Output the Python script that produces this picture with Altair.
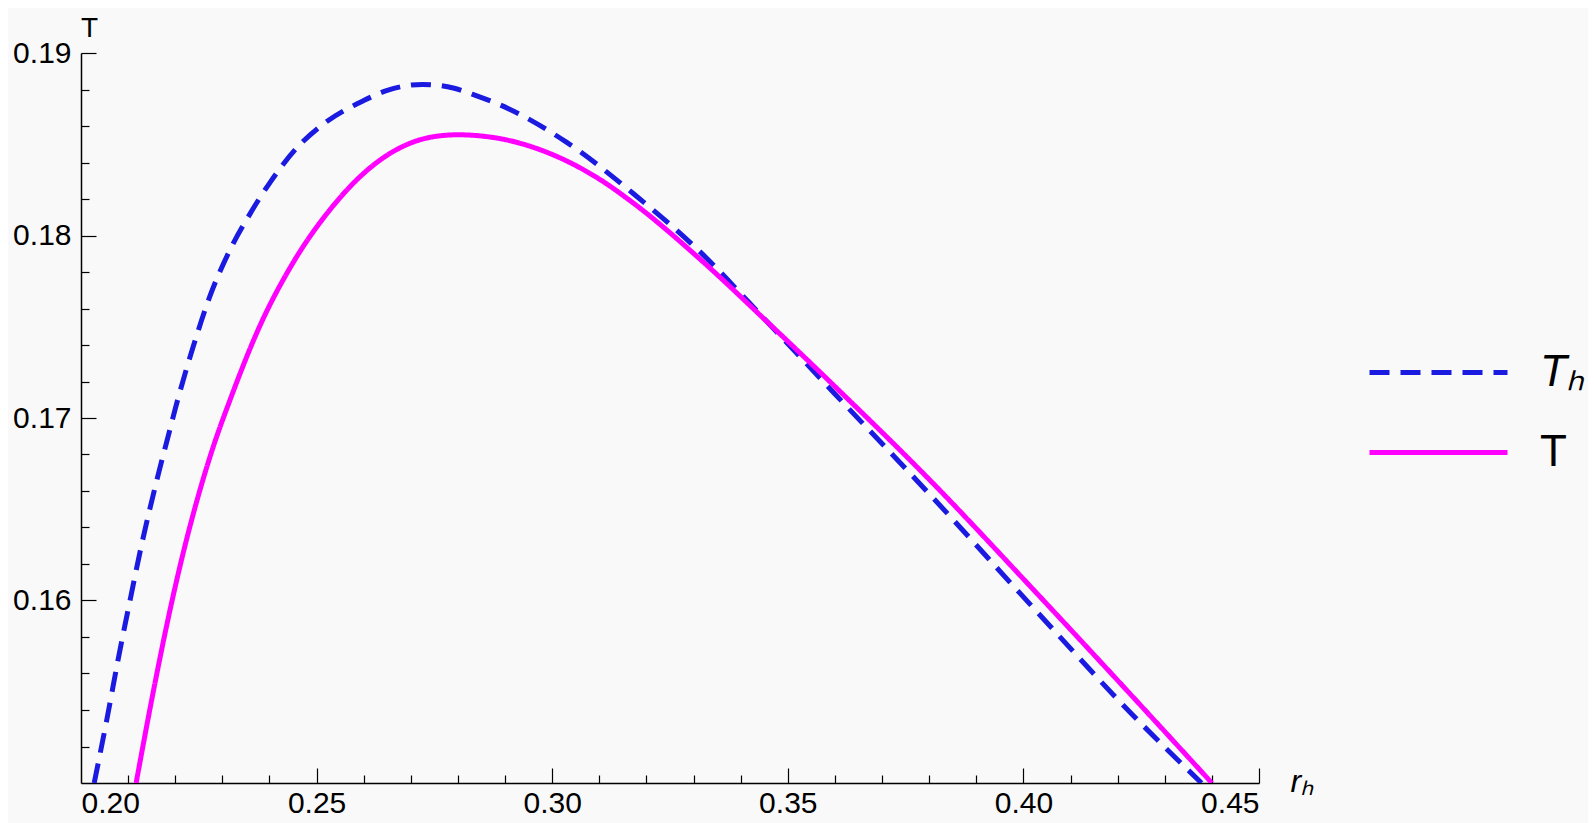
import altair as alt
import pandas as pd

# Curves (r_h, temperature)
TH_R = [0.2028, 0.2055, 0.2079, 0.2104, 0.2129, 0.2161, 0.2189, 0.2200, 0.2238,
        0.2274, 0.2316, 0.2359, 0.2401, 0.2458, 0.2514, 0.2599, 0.2650, 0.2725,
        0.2790, 0.2840, 0.2889, 0.3031, 0.3172, 0.3314, 0.3455, 0.3597, 0.3809,
        0.4021, 0.4233, 0.4378]
TH_T = [0.1500, 0.1535, 0.1568, 0.1600, 0.1631, 0.1666, 0.1694, 0.1705, 0.1739,
        0.1767, 0.1792, 0.1812, 0.1829, 0.1848, 0.1861, 0.18738, 0.18795, 0.18828,
        0.18808, 0.18765, 0.18716, 0.1851, 0.1823, 0.1791, 0.1753, 0.1714, 0.1656,
        0.1596, 0.1537, 0.1500]

T_R = [0.2117, 0.2150, 0.2182, 0.2210, 0.2246, 0.2281, 0.2316, 0.2380, 0.2451,
       0.2528, 0.2613, 0.2705, 0.2750, 0.2800, 0.2850, 0.2889, 0.2960, 0.3031,
       0.3100, 0.3172, 0.3314, 0.3455, 0.3597, 0.3809, 0.4021, 0.4233, 0.4400]
T_T = [0.1500, 0.15455, 0.15865, 0.16187, 0.16547, 0.16845, 0.17097, 0.17507, 0.17855,
       0.18140, 0.18370, 0.18512, 0.18542, 0.18552, 0.18545, 0.18531, 0.18483, 0.18408,
       0.18309, 0.18178, 0.1787, 0.1753, 0.1718, 0.1664, 0.1606, 0.1547, 0.1500]

SERIES = ["Tₕ", "T"]
COLORS = ["#1a1ae0", "#ff00ff"]
DASHES = [[20, 11], [1, 0]]

X_LABELS = [0.20, 0.25, 0.30, 0.35, 0.40, 0.45]
X_MAJOR = [0.25, 0.30, 0.35, 0.40, 0.45]
X_MINOR = [0.21, 0.22, 0.23, 0.24, 0.26, 0.27, 0.28, 0.29, 0.31, 0.32, 0.33, 0.34,
           0.36, 0.37, 0.38, 0.39, 0.41, 0.42, 0.43, 0.44]
Y_LABELS = [0.16, 0.17, 0.18, 0.19]
Y_MINOR = [0.152, 0.154, 0.156, 0.158, 0.162, 0.164, 0.166, 0.168, 0.172, 0.174,
           0.176, 0.178, 0.182, 0.184, 0.186, 0.188]

W, H = 1178, 730
FONT = "Liberation Sans"

df = pd.concat([
    pd.DataFrame({"series": SERIES[0], "r": TH_R, "T": TH_T}),
    pd.DataFrame({"series": SERIES[1], "r": T_R, "T": T_T}),
])

xs = alt.Scale(domain=[0.20, 0.45], nice=False, zero=False)
ys = alt.Scale(domain=[0.15, 0.19], nice=False, zero=False)

# long flat path symbol: wide sample line while the row height stays small
legend = alt.Legend(
    title=None, orient="none", legendX=1332, legendY=294,
    symbolType="M-3,0H3", symbolSize=2116, symbolStrokeWidth=5,
    labelFont=FONT, labelFontSize=44, labelColor="black", labelOffset=76,
    rowPadding=32, padding=0,
    labelFontStyle={"expr": "datum.label === 'Tₕ' ? 'italic' : 'normal'"},
)

base = alt.Chart(df)

lines = base.mark_line(strokeWidth=5, interpolate="monotone", clip=True).encode(
    x=alt.X("r:Q", scale=xs, axis=alt.Axis(
        orient="bottom", values=X_LABELS, format=".2f", ticks=False, grid=False,
        domainColor="black", domainWidth=1.5, labelFontSize=30, labelPadding=5,
        title="rₕ", titleFontStyle="italic", titleFontSize=32, titleFontWeight="normal",
        titleX=1209, titleY=8, titleAlign="left", titleBaseline="alphabetic",
        titleAngle=0)),
    y=alt.Y("T:Q", scale=ys, axis=alt.Axis(
        orient="left", values=Y_LABELS, format=".2f", ticks=False, grid=False,
        domainColor="black", domainWidth=1.5, labelFontSize=30, labelPadding=10,
        title="T", titleFontSize=28, titleFontWeight="normal", titleAngle=0,
        titleX=8, titleY=-17, titleAlign="center", titleBaseline="alphabetic")),
    color=alt.Color("series:N", scale=alt.Scale(domain=SERIES, range=COLORS), legend=legend),
    strokeDash=alt.StrokeDash("series:N", scale=alt.Scale(domain=SERIES, range=DASHES),
                              legend=legend),
)


def tick_layer(xvals, yvals, size):
    # invisible copy of the lines, only there to carry inward-pointing ticks
    return base.mark_line(strokeOpacity=0).encode(
        x=alt.X("r:Q", scale=xs, title=None, axis=alt.Axis(
            orient="top", offset=-H, values=xvals, labels=False, domain=False,
            grid=False, tickSize=size, tickColor="black", tickWidth=1.2)),
        y=alt.Y("T:Q", scale=ys, title=None, axis=alt.Axis(
            orient="right", offset=-W, values=yvals, labels=False, domain=False,
            grid=False, tickSize=size, tickColor="black", tickWidth=1.2)),
        detail="series:N",
    )


chart = (
    alt.layer(lines, tick_layer(X_MAJOR, Y_LABELS, 15), tick_layer(X_MINOR, Y_MINOR, 8))
    .resolve_axis(x="independent", y="independent")
    .properties(
        width=W, height=H,
        autosize=alt.AutoSizeParams(type="none"),
        padding={"left": 73, "top": 45, "right": 329, "bottom": 40},
        background="#f9f9f9",
    )
    .configure_view(stroke=None)
    .configure_axis(labelFont=FONT, titleFont=FONT, labelColor="black", titleColor="black")
)

chart.save("out.html", embed_options={"renderer": "svg", "actions": False})
